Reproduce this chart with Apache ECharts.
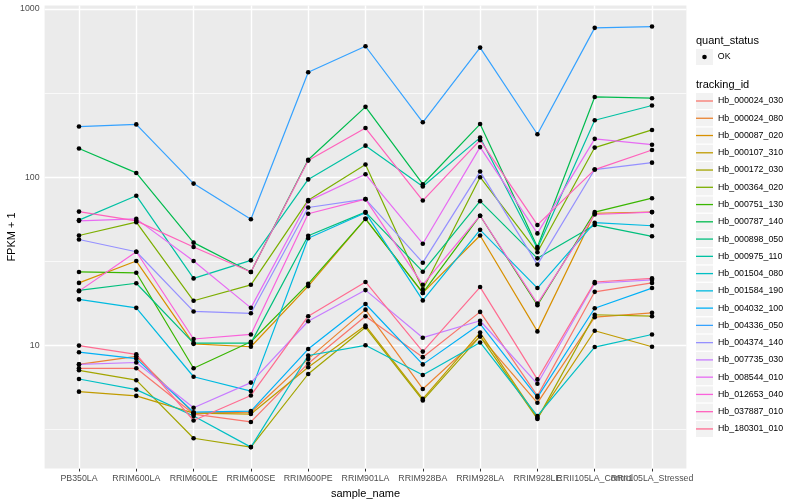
<!DOCTYPE html>
<html><head><meta charset="utf-8">
<script src="https://cdn.jsdelivr.net/npm/echarts@6/dist/echarts.min.js"></script>
<style>html,body{margin:0;padding:0;background:#fff}#c{width:800px;height:500px}</style>
</head><body><div id="c"></div>
<script>
// ---- data (values are FPKM + 1) ----
const samples = ['PB350LA','RRIM600LA','RRIM600LE','RRIM600SE','RRIM600PE','RRIM901LA','RRIM928BA','RRIM928LA','RRIM928LE','RRII105LA_Control','RRII105LA_Stressed'];
const trackingIds = ['Hb_000024_030','Hb_000024_080','Hb_000087_020','Hb_000107_310','Hb_000172_030','Hb_000364_020','Hb_000751_130','Hb_000787_140','Hb_000898_050','Hb_000975_110','Hb_001504_080','Hb_001584_190','Hb_004032_100','Hb_004336_050','Hb_004374_140','Hb_007735_030','Hb_008544_010','Hb_012653_040','Hb_037887_010','Hb_180301_010'];
const trackColors = ['#F8766D','#EA8331','#D89000','#C09B00','#A3A500','#7CAE00','#39B600','#00BB4E','#00BF7D','#00C1A3','#00BFC4','#00BAE0','#00B0F6','#35A2FF','#9590FF','#C77CFF','#E76BF3','#FA62DB','#FF62BC','#FF6C91'];

const hb000024_030 = [7.3, 7.3, 3.9, 3.5, 7.8, 14.9, 8.5, 15.8, 5.0, 20.8, 23.5];
const hb000024_080 = [7.7, 8.6, 3.95, 4.0, 8.3, 16.3, 5.5, 11.3, 4.55, 14.7, 15.6];
const hb000087_020 = [23.5, 31.7, 10.2, 9.8, 22.5, 56.5, 20.5, 45, 12.1, 61, 62];
const hb000107_310 = [5.3, 5.0, 3.95, 3.9, 7.4, 13.1, 4.8, 11.9, 3.7, 12.2, 9.8];
const hb000172_030 = [7.1, 6.2, 2.8, 2.48, 6.75, 12.8, 4.7, 11.3, 3.65, 15.2, 14.9];
const hb000364_020 = [45, 54, 18.4, 22.9, 73, 119, 21.5, 100, 35.8, 150, 191];
const hb000751_130 = [27.3, 27, 7.3, 10.5, 23.2, 56.5, 20.5, 59, 17.3, 62, 75];
const hb000787_140 = [148, 106, 40.8, 27.3, 127, 262, 90.8, 207, 38.4, 300, 295];
const hb000898_050 = [21.2, 23.4, 10.3, 10.3, 44.8, 62, 27.4, 72, 32.9, 52, 44.5];
const hb000975_110 = [55.5, 77.6, 25, 32, 97, 154, 88, 172, 37.7, 218, 267];
const hb001504_080 = [6.3, 5.45, 3.8, 2.48, 8.7, 10, 6.66, 10.4, 3.8, 9.76, 11.6];
const hb001584_190 = [18.75, 16.7, 6.5, 5.34, 43.3, 61.5, 18.5, 48.6, 21.9, 53.6, 51.4];
const hb004032_100 = [9.1, 8.33, 4.0, 4.06, 9.5, 17.6, 7.7, 13.4, 4.9, 16.6, 21.9];
const hb004336_050 = [200, 206, 91.6, 56.2, 421, 601, 212, 590, 180, 773, 787];
const hb004374_140 = [42.6, 36, 15.9, 15.5, 66, 74, 31, 108, 30.2, 111, 122];
const hb007735_030 = [7.7, 7.9, 4.25, 6.0, 13.9, 21.3, 11.1, 14.0, 5.9, 23.4, 24.5];
const hb008544_010 = [55, 56.5, 31.7, 16.7, 72, 104, 40.2, 151, 46.3, 169, 156];
const hb012653_040 = [21, 36, 10.9, 11.6, 60.6, 74, 22.9, 59, 17.7, 60, 62];
const hb037887_010 = [62.4, 55, 38.4, 27.3, 125.5, 196, 72.6, 166, 52, 111, 145];
const hb180301_010 = [9.96, 8.84, 3.57, 5.03, 14.9, 23.8, 9.17, 22.2, 6.27, 23.8, 25];

const trackValues = [hb000024_030, hb000024_080, hb000087_020, hb000107_310, hb000172_030, hb000364_020, hb000751_130, hb000787_140, hb000898_050, hb000975_110, hb001504_080, hb001584_190, hb004032_100, hb004336_050, hb004374_140, hb007735_030, hb008544_010, hb012653_040, hb037887_010, hb180301_010];

const yTicks = [10, 100, 1000];
const yMinorBreaks = [3.1623, 31.623, 316.23];
const quantStatus = 'OK';

// ---- chart ----
const FONT = '"Liberation Sans", Arial, Helvetica, sans-serif';
const chart = echarts.init(document.getElementById('c'), null, {renderer: 'canvas'});
const xIdx = samples.map((s, i) => i);
const xEven = xIdx.filter(i => i % 2 === 0);
const xOdd = xIdx.filter(i => i % 2 === 1);

const gridLines = [
  ...xIdx.map(i => ({xAxis: i, lineStyle: {color: '#fff', width: 1.4, type: 'solid'}})),
  ...yTicks.map(v => ({yAxis: v, lineStyle: {color: '#fff', width: 1.4, type: 'solid'}})),
  ...yMinorBreaks.map(v => ({yAxis: v, lineStyle: {color: '#fff', width: 0.7, type: 'solid'}}))
];

const lineSeries = trackingIds.map((id, k) => ({
  name: id, type: 'line', z: 2, silent: true,
  data: trackValues[k].map((v, i) => [i, v]),
  symbol: 'none', showSymbol: false,
  itemStyle: {color: trackColors[k]},
  lineStyle: {color: trackColors[k], width: 1.2}
}));

const pointData = [];
trackValues.forEach(arr => arr.forEach((v, i) => pointData.push([i, v])));

function xAxisDef(vals, withName) {
  return {
    type: 'value', min: -0.6, max: 10.6, position: 'bottom',
    axisLine: {show: false},
    axisTick: {show: true, length: 3, lineStyle: {color: '#333', width: 1}, customValues: vals},
    axisLabel: {customValues: vals, formatter: v => samples[Math.round(v)] || '', hideOverlap: false,
      color: '#4D4D4D', fontSize: 8.8, margin: 6, fontFamily: FONT},
    splitLine: {show: false},
    name: withName ? 'sample_name' : '', nameLocation: 'middle', nameGap: 19,
    nameTextStyle: {fontSize: 11, color: '#000', fontFamily: FONT}
  };
}

const option = {
  animation: false,
  backgroundColor: '#fff',
  textStyle: {fontFamily: FONT},
  grid: {left: 44.6, right: 113.6, top: 5.5, bottom: 31.5, show: true, backgroundColor: '#EBEBEB', borderWidth: 0,
    containLabel: false, outerBoundsMode: 'none'},
  title: [
    {text: 'quant_status', left: 696, top: 35, padding: 0, textStyle: {fontSize: 11, fontWeight: 'normal', color: '#000', fontFamily: FONT}},
    {text: 'tracking_id', left: 696, top: 79, padding: 0, textStyle: {fontSize: 11, fontWeight: 'normal', color: '#000', fontFamily: FONT}}
  ],
  xAxis: [xAxisDef(xEven, true), xAxisDef(xOdd, false)],
  yAxis: {
    type: 'log', logBase: 10, min: 1.85, max: 1050,
    axisLine: {show: false},
    axisTick: {show: true, length: 3, lineStyle: {color: '#333', width: 1}, customValues: yTicks},
    axisLabel: {customValues: yTicks, formatter: v => String(Math.round(v)), align: 'right', hideOverlap: false,
      color: '#4D4D4D', fontSize: 8.8, margin: 5, fontFamily: FONT},
    splitLine: {show: false}, minorSplitLine: {show: false},
    name: 'FPKM + 1', nameLocation: 'middle', nameGap: 27, nameRotate: 90, nameMoveOverlap: false,
    nameTextStyle: {fontSize: 11, color: '#000', fontFamily: FONT}
  },
  legend: [
    { // key background for quant_status
      left: 696, top: 49, padding: 0, orient: 'vertical', itemWidth: 17, itemHeight: 16, itemGap: 0, z: 3,
      selectedMode: false, formatter: () => '', textStyle: {fontSize: 8, lineHeight: 16},
      data: [{name: quantStatus, icon: 'rect', itemStyle: {color: '#F2F2F2', borderWidth: 0}}]
    },
    { // quant_status key
      left: 702.2, top: 49, padding: 0, orient: 'vertical', itemWidth: 4.6, itemHeight: 4.6, itemGap: 0, z: 4,
      selectedMode: false, textStyle: {fontSize: 8.8, lineHeight: 16, color: '#000', padding: [0, 0, 0, 6], fontFamily: FONT},
      data: [{name: quantStatus, icon: 'circle', itemStyle: {color: '#000', borderWidth: 0}}]
    },
    { // key backgrounds for tracking_id
      left: 696, top: 93, padding: 0, orient: 'vertical', itemWidth: 17, itemHeight: 16, itemGap: 1.26, z: 3,
      selectedMode: false, formatter: () => '', textStyle: {fontSize: 8, lineHeight: 16},
      data: trackingIds.map(n => ({name: n, icon: 'rect', itemStyle: {color: '#F2F2F2', borderWidth: 0}}))
    },
    { // tracking_id keys
      left: 696, top: 93, padding: 0, orient: 'vertical', itemWidth: 17, itemHeight: 16, itemGap: 1.26, z: 4,
      selectedMode: false, symbolKeepAspect: true,
      textStyle: {fontSize: 8.8, lineHeight: 16, color: '#000', fontFamily: FONT},
      data: trackingIds.map((n, k) => ({name: n, icon: 'path://M0,0H17V1.3H0Z', itemStyle: {color: trackColors[k], borderWidth: 0}}))
    }
  ],
  series: [
    {
      name: '_grid', type: 'line', data: [], silent: true, z: 1,
      markLine: {silent: true, symbol: 'none', z: 1, label: {show: false}, animation: false, data: gridLines}
    },
    ...lineSeries,
    {
      name: quantStatus, type: 'scatter', z: 3, silent: true,
      data: pointData, symbol: 'circle', symbolSize: 4.6,
      itemStyle: {color: '#000', opacity: 1}
    }
  ]
};
chart.setOption(option);
</script>
</body></html>
